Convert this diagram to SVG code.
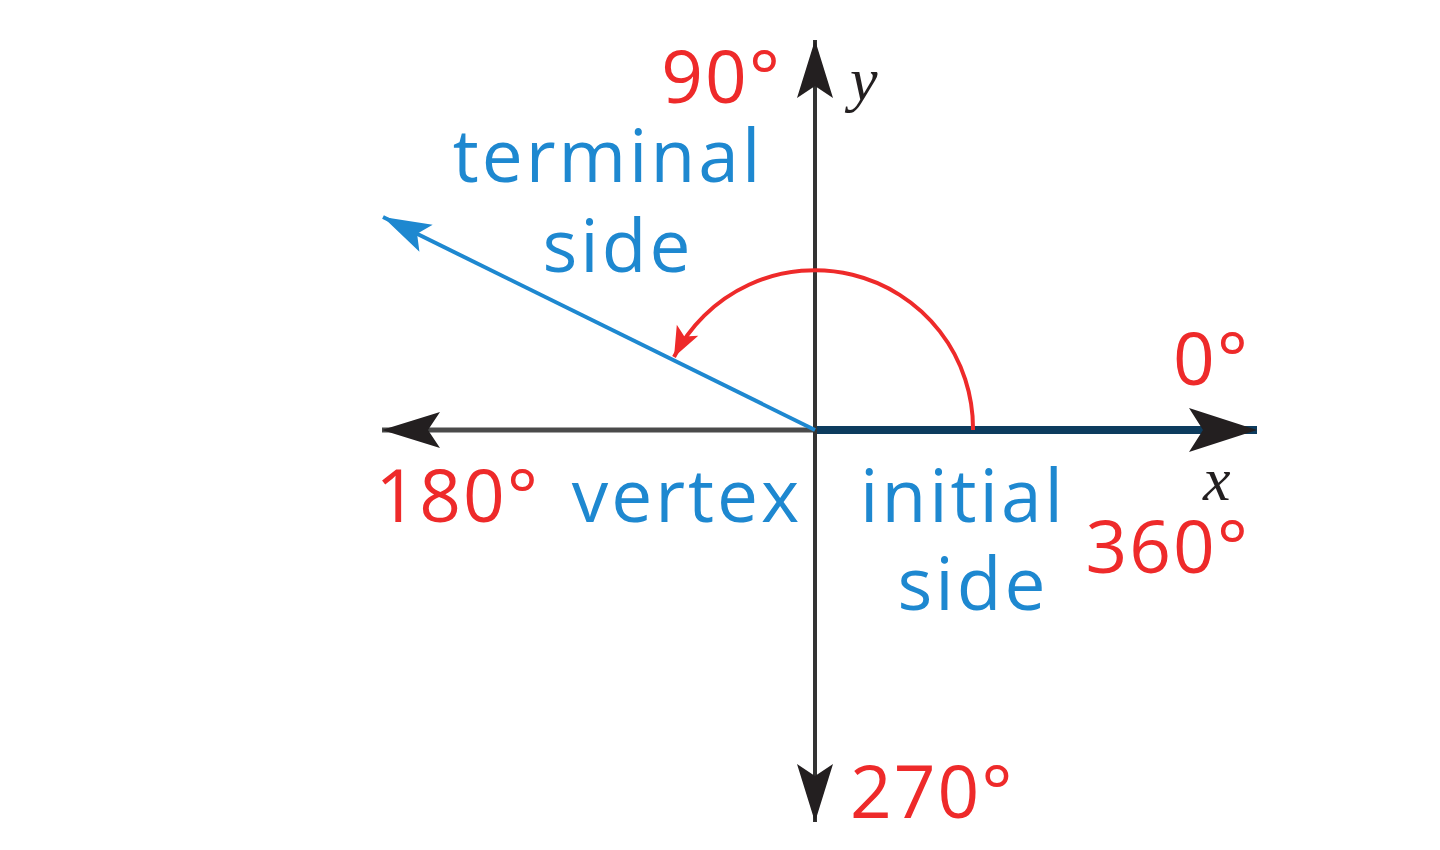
<svg xmlns="http://www.w3.org/2000/svg" width="1440" height="850" viewBox="0 0 1440 850">
<defs>
<marker id="ahK" markerUnits="userSpaceOnUse" markerWidth="80" markerHeight="60" refX="70" refY="25" orient="auto" viewBox="0 0 80 50">
<path d="M70,25 L2,3 L16,25 L2,47 Z" fill="#231f20"/>
</marker>
<marker id="ahKs" markerUnits="userSpaceOnUse" markerWidth="70" markerHeight="50" refX="60" refY="20" orient="auto" viewBox="0 0 70 40">
<path d="M60,20 L2,2 L14,20 L2,38 Z" fill="#231f20"/>
</marker>
<marker id="ahB" markerUnits="userSpaceOnUse" markerWidth="60" markerHeight="40" refX="50" refY="17" orient="auto" viewBox="0 0 60 34">
<path d="M50,17 L2,2 L12,17 L2,32 Z" fill="#1e88d0"/>
</marker>
<marker id="ahR" markerUnits="userSpaceOnUse" markerWidth="40" markerHeight="34" refX="32" refY="14" orient="auto" viewBox="0 0 40 28">
<path d="M32,14 L2,2 L9,14 L2,26 Z" fill="#ee2a2a"/>
</marker>
<style>
.red{fill:#ee2a2a;font-family:"Open Sans","Liberation Sans",sans-serif;font-size:73px;letter-spacing:2px}
.blue{fill:#1e88d0;font-family:"Open Sans","Liberation Sans",sans-serif;font-size:73px;letter-spacing:3px}
.var{fill:#231f20;font-family:"Liberation Serif","DejaVu Serif",serif;font-style:italic;font-size:62px}
</style>
</defs>
<g id="connectors">
<line x1="815" y1="430" x2="1257" y2="430" stroke="#0d3c5e" stroke-width="8" marker-end="url(#ahK)"/>
<line x1="815" y1="430" x2="382" y2="430" stroke="#4a4a4a" stroke-width="5" marker-end="url(#ahKs)"/>
<line x1="815" y1="430" x2="815" y2="40" stroke="#333" stroke-width="4" marker-end="url(#ahKs)"/>
<line x1="815" y1="430" x2="815" y2="822" stroke="#333" stroke-width="4" marker-end="url(#ahKs)"/>
<line x1="815" y1="430" x2="383" y2="217" stroke="#1e88d0" stroke-width="4" marker-end="url(#ahB)"/>
<path d="M973,430 A158,158 0 0 0 674,357" fill="none" stroke="#ee2a2a" stroke-width="4" marker-end="url(#ahR)"/>
</g>
<g id="labels">
<text class="red" x="782" y="103" text-anchor="end">90°</text>
<text class="var" x="850" y="100">y</text>
<text class="blue" x="608" y="182" text-anchor="middle">terminal</text>
<text class="blue" x="618" y="272" text-anchor="middle">side</text>
<text class="red" x="1250" y="385" text-anchor="end">0°</text>
<text class="red" x="540" y="522" text-anchor="end">180°</text>
<text class="blue" x="687" y="522" text-anchor="middle">vertex</text>
<text class="blue" x="963" y="522" text-anchor="middle">initial</text>
<text class="blue" x="973" y="610" text-anchor="middle">side</text>
<text class="var" x="1203" y="500">x</text>
<text class="red" x="1250" y="573" text-anchor="end">360°</text>
<text class="red" x="850" y="818">270°</text>
</g>
</svg>
